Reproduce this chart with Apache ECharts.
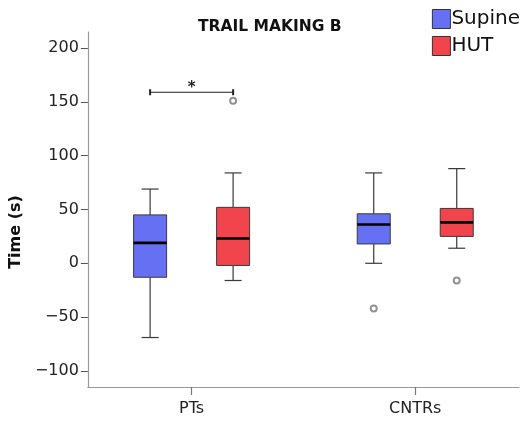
<!DOCTYPE html>
<html>
<head>
<meta charset="utf-8">
<script src="https://cdn.jsdelivr.net/npm/echarts@6/dist/echarts.min.js"></script>
<style>
  html, body { margin: 0; padding: 0; background: #fff; }
  #chart { width: 529px; height: 425px; }
</style>
</head>
<body>
<div id="chart"></div>
<script>
// Groups on the x axis
const categories = ['PTs', 'CNTRs'];
// Box statistics per group: [lower whisker, Q1, median, Q3, upper whisker]
const supineStats = [
  [-69, -13, 19, 45, 69],
  [0, 18, 36, 46, 84]
];
const hutStats = [
  [-16, -2, 23, 52, 84],
  [14, 25, 38, 51, 88]
];
// Outliers: [group index, value]
const supineOutliers = [[1, -42]];
const hutOutliers = [[0, 151], [1, -16]];
// Significance bracket: [group index, height, label]
const significance = [[0, 159, '*']];
// Y axis tick labels
const yTicks = [-100, -50, 0, 50, 100, 150, 200];

const FONT = 'DejaVu Sans';
const SUPINE_COLOR = '#6670f2';
const HUT_COLOR = '#f2444c';
const BOX_OFFSET = 41.5;   // px from group centre to each box centre
const BOX_HALF = 16.5;     // px half box width
const CAP_HALF = 8.5;      // px half whisker cap width

// x position of a group on the value axis
const xOf = i => i + 1;

function boxData(stats) {
  return stats.map((s, i) => [xOf(i)].concat(s));
}

function boxRenderer(offset, fill) {
  return function (params, api) {
    const x = api.value(0);
    const cx = api.coord([x, 0])[0] + offset;
    const y = k => api.coord([x, api.value(k)])[1];
    const yLow = y(1), yQ1 = y(2), yMed = y(3), yQ3 = y(4), yHigh = y(5);
    const ws = { stroke: '#3a3a3a', lineWidth: 1.2 };
    return {
      type: 'group',
      children: [
        { type: 'line', shape: { x1: cx, y1: yHigh, x2: cx, y2: yQ3 }, style: ws },
        { type: 'line', shape: { x1: cx, y1: yQ1, x2: cx, y2: yLow }, style: ws },
        { type: 'line', shape: { x1: cx - CAP_HALF, y1: yHigh, x2: cx + CAP_HALF, y2: yHigh }, style: ws },
        { type: 'line', shape: { x1: cx - CAP_HALF, y1: yLow, x2: cx + CAP_HALF, y2: yLow }, style: ws },
        { type: 'rect', shape: { x: cx - BOX_HALF, y: yQ3, width: BOX_HALF * 2, height: yQ1 - yQ3 },
          style: { fill: fill, stroke: '#3a3a3a', lineWidth: 1 } },
        { type: 'line', shape: { x1: cx - BOX_HALF, y1: yMed, x2: cx + BOX_HALF, y2: yMed },
          style: { stroke: '#000', lineWidth: 2.6 } }
      ]
    };
  };
}

function bracketRenderer(params, api) {
  const x = api.value(0);
  const p = api.coord([x, api.value(1)]);
  const x1 = p[0] - BOX_OFFSET, x2 = p[0] + BOX_OFFSET, yy = p[1];
  const st = { stroke: '#222', lineWidth: 1.2 };
  return {
    type: 'group',
    children: [
      { type: 'line', shape: { x1: x1, y1: yy, x2: x2, y2: yy }, style: st },
      { type: 'line', shape: { x1: x1, y1: yy - 3, x2: x1, y2: yy + 3 }, style: { stroke: '#222', lineWidth: 2 } },
      { type: 'line', shape: { x1: x2, y1: yy - 3, x2: x2, y2: yy + 3 }, style: { stroke: '#222', lineWidth: 2 } },
      { type: 'text', x: p[0], y: yy + 3,
        style: { text: significance[params.dataIndex][2], fill: '#222', font: 'bold 15px ' + FONT,
                 align: 'center', verticalAlign: 'bottom' } }
    ]
  };
}

// Tick labels use a true minus sign
const fmtNum = v => String(v).replace('-', '\u2212');

const chart = echarts.init(document.getElementById('chart'), null, { renderer: 'canvas' });

chart.setOption({
  animation: false,
  backgroundColor: '#fff',
  title: {
    text: 'TRAIL MAKING B',
    left: 193,
    top: 14,
    textStyle: { fontFamily: FONT, fontWeight: 'bold', fontSize: 15.5, color: '#111' }
  },
  legend: {
    orient: 'vertical',
    right: 4,
    top: 4,
    itemWidth: 18,
    itemHeight: 19,
    itemGap: 7,
    icon: 'rect',
    itemStyle: { borderColor: '#333', borderWidth: 1 },
    textStyle: { fontFamily: FONT, fontSize: 20, color: '#111', padding: [0, 0, 0, -4] },
    data: ['Supine', 'HUT']
  },
  grid: { left: 87, right: 10, top: 32, bottom: 38, containLabel: false },
  xAxis: {
    type: 'value',
    min: 0.536,
    max: 2.464,
    splitLine: { show: false },
    axisLine: { onZero: false, lineStyle: { color: '#999', width: 1.2 } },
    axisTick: { show: true, length: 8, customValues: categories.map((c, i) => xOf(i)),
                lineStyle: { color: '#777', width: 1.2 } },
    axisLabel: {
      customValues: categories.map((c, i) => xOf(i)),
      formatter: v => categories[Math.round(v) - 1] || '',
      fontFamily: FONT, fontSize: 16, color: '#222', margin: 14
    }
  },
  yAxis: {
    type: 'value',
    min: -115,
    max: 215,
    name: 'Time (s)',
    nameLocation: 'middle',
    nameGap: 56,
    nameTextStyle: { fontFamily: FONT, fontWeight: 'bold', fontSize: 16, color: '#111', padding: [0, 0, 0, -45] },
    splitLine: { show: false },
    axisLine: { show: true, onZero: false, lineStyle: { color: '#999', width: 1.2 } },
    axisTick: { show: true, length: 7, customValues: yTicks, lineStyle: { color: '#555', width: 1 } },
    axisLabel: { customValues: yTicks, formatter: fmtNum, fontFamily: FONT, fontSize: 16, color: '#222', margin: 9 }
  },
  series: [
    {
      name: 'Supine',
      type: 'custom',
      itemStyle: { color: SUPINE_COLOR },
      renderItem: boxRenderer(-BOX_OFFSET, SUPINE_COLOR),
      encode: { x: 0, y: [1, 2, 3, 4, 5] },
      data: boxData(supineStats),
      z: 3
    },
    {
      name: 'HUT',
      type: 'custom',
      itemStyle: { color: HUT_COLOR },
      renderItem: boxRenderer(BOX_OFFSET, HUT_COLOR),
      encode: { x: 0, y: [1, 2, 3, 4, 5] },
      data: boxData(hutStats),
      z: 3
    },
    {
      name: 'Supine outliers',
      type: 'scatter',
      symbol: 'emptyCircle',
      symbolSize: 6,
      symbolOffset: [-BOX_OFFSET, 0],
      itemStyle: { color: '#777', borderWidth: 1.3 },
      data: supineOutliers.map(d => [xOf(d[0]), d[1]]),
      z: 4
    },
    {
      name: 'HUT outliers',
      type: 'scatter',
      symbol: 'emptyCircle',
      symbolSize: 6,
      symbolOffset: [BOX_OFFSET, 0],
      itemStyle: { color: '#777', borderWidth: 1.3 },
      data: hutOutliers.map(d => [xOf(d[0]), d[1]]),
      z: 4
    },
    {
      name: 'Significance',
      type: 'custom',
      renderItem: bracketRenderer,
      encode: { x: 0, y: 1 },
      data: significance.map(d => [xOf(d[0]), d[1]]),
      z: 4
    }
  ]
});
</script>
</body>
</html>
